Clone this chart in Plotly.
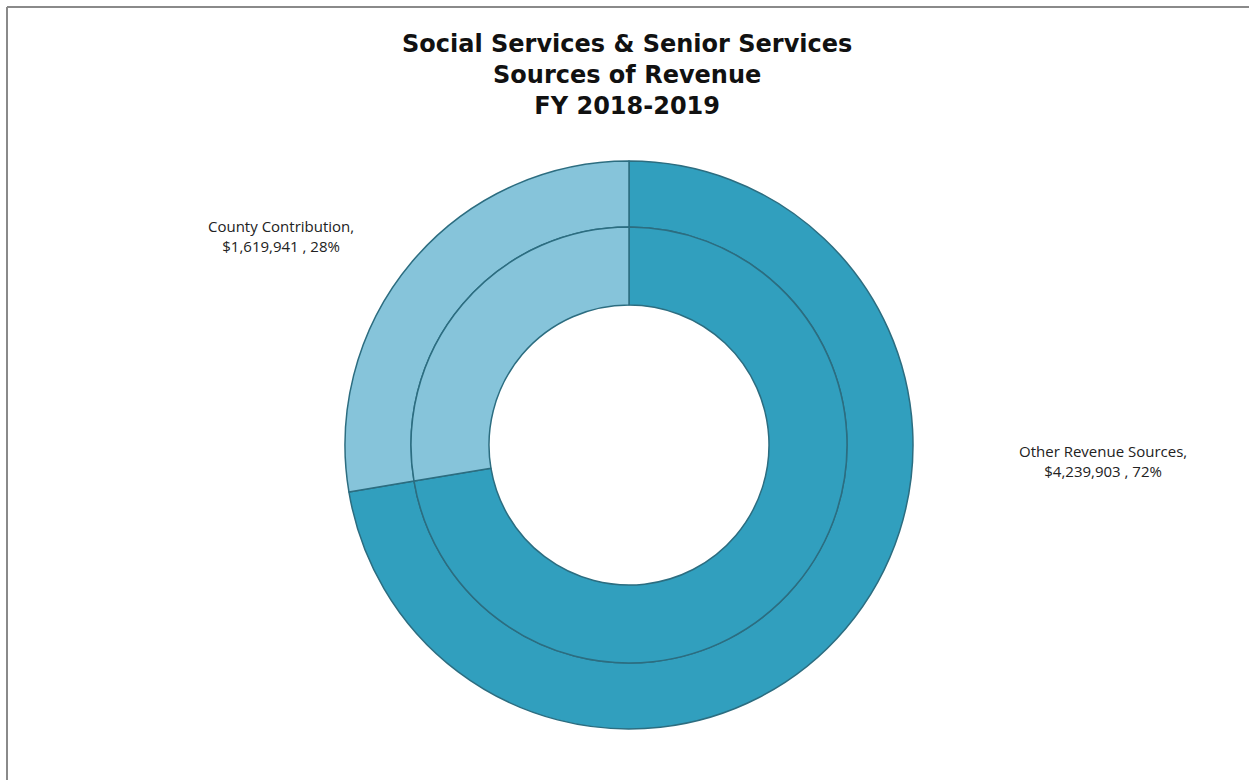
import plotly.graph_objects as go

# slices listed in clockwise order starting at 12 o'clock
categories = ["Other Revenue Sources", "County Contribution"]
outer_values = [4239903, 1619941]
inner_values = [4239903, 1619941]
slice_colors = ["#319fbe", "#86c4da"]
title_lines = ["Social Services & Senior Services", "Sources of Revenue", "FY 2018-2019"]

W, H = 1249, 780
cx, cy = 629, 445          # ring centre in pixels (from top)
r_out, r_mid, r_in = 284, 218, 140


def dom(r):
    return dict(x=[(cx - r) / W, (cx + r) / W],
                y=[(H - cy - r) / H, (H - cy + r) / H])


common = dict(labels=categories, sort=False, direction="clockwise", rotation=0,
              textinfo="none", hoverinfo="label+value+percent",
              marker=dict(colors=slice_colors, line=dict(color="#2c6d80", width=1.5)),
              showlegend=False)

fig = go.Figure()
fig.add_trace(go.Pie(values=outer_values, hole=r_mid / r_out, domain=dom(r_out), **common))
fig.add_trace(go.Pie(values=inner_values, hole=r_in / r_mid, domain=dom(r_mid), **common))

total = sum(outer_values)
label_pos = {"County Contribution": (281, 236), "Other Revenue Sources": (1103, 461)}
annotations = []
for cat, val in zip(categories, outer_values):
    px, py = label_pos[cat]
    pct = round(100 * val / total)
    annotations.append(dict(
        x=px / W, y=1 - py / H, xref="paper", yref="paper", showarrow=False,
        xanchor="center", yanchor="middle",
        text=f"{cat},<br>${val:,} , {pct}%", align="center",
        font=dict(family="Open Sans, sans-serif", size=15, color="#222222")))

annotations.append(dict(
    x=627 / W, y=1 - 75 / H, xref="paper", yref="paper", showarrow=False,
    xanchor="center", yanchor="middle",
    text="<b>" + "<br>".join(title_lines) + "</b>", align="center",
    font=dict(family="DejaVu Sans, sans-serif", size=24, color="#111111")))

fig.update_layout(
    width=W, height=H, margin=dict(l=0, r=0, t=0, b=0),
    paper_bgcolor="white", plot_bgcolor="white",
    annotations=annotations,
    shapes=[
        dict(type="line", xref="paper", yref="paper", x0=7 / W, x1=1, y0=1 - 7 / H, y1=1 - 7 / H,
             line=dict(color="#8a8a8a", width=2)),
        dict(type="line", xref="paper", yref="paper", x0=7 / W, x1=7 / W, y0=0, y1=1 - 7 / H,
             line=dict(color="#8a8a8a", width=2)),
    ],
)

fig.write_html("out.html", config={"displayModeBar": False},
               post_script="document.body.style.margin='0';")
